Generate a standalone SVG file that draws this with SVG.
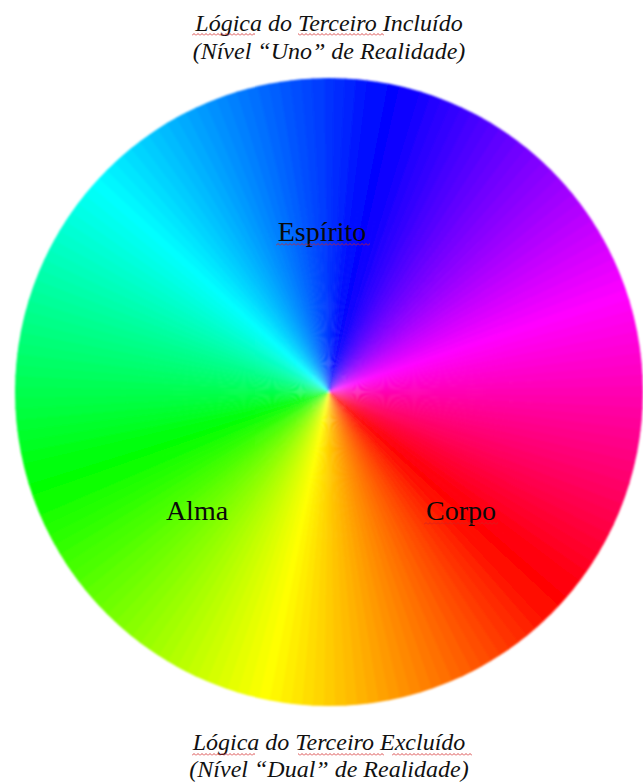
<svg xmlns="http://www.w3.org/2000/svg" width="643" height="782" viewBox="0 0 643 782">
<style>
.title{font-family:"Liberation Serif","Times New Roman",serif;font-style:italic;font-size:24px;fill:#111;text-anchor:middle}
.lbl{font-family:"Liberation Serif","Times New Roman",serif;font-size:28px;fill:#0a0a0a;text-anchor:middle}
</style>
<defs>
<path id="w" d="M0 0 L-6.4 -330 L6.4 -330 Z"/>
<clipPath id="disc"><circle cx="0" cy="0" r="314"/></clipPath>
<filter id="soft" x="-5%" y="-5%" width="110%" height="110%"><feGaussianBlur stdDeviation="0.9"/></filter>
<pattern id="sq" width="4" height="3" patternUnits="userSpaceOnUse"><path d="M0 2.5 L2 0.5 L4 2.5" fill="none" stroke="#d02020" stroke-width="0.8"/></pattern>
</defs>
<rect width="643" height="782" fill="#fff"/>
<g id="wheel" transform="translate(329,392)">
<g filter="url(#soft)">
<g clip-path="url(#disc)">
<use href="#w" transform="rotate(0)" fill="hsl(228,100%,50%)"/>
<use href="#w" transform="rotate(2)" fill="hsl(230,100%,50%)"/>
<use href="#w" transform="rotate(4)" fill="hsl(232,100%,50%)"/>
<use href="#w" transform="rotate(6)" fill="hsl(234,100%,50%)"/>
<use href="#w" transform="rotate(8)" fill="hsl(236,100%,50%)"/>
<use href="#w" transform="rotate(10)" fill="hsl(238,100%,50%)"/>
<use href="#w" transform="rotate(12)" fill="hsl(240,100%,50%)"/>
<use href="#w" transform="rotate(14)" fill="hsl(242,100%,50%)"/>
<use href="#w" transform="rotate(16)" fill="hsl(244,100%,50%)"/>
<use href="#w" transform="rotate(18)" fill="hsl(246,100%,50%)"/>
<use href="#w" transform="rotate(20)" fill="hsl(248,100%,50%)"/>
<use href="#w" transform="rotate(22)" fill="hsl(250,100%,50%)"/>
<use href="#w" transform="rotate(24)" fill="hsl(252,100%,50%)"/>
<use href="#w" transform="rotate(26)" fill="hsl(254,100%,50%)"/>
<use href="#w" transform="rotate(28)" fill="hsl(256,100%,50%)"/>
<use href="#w" transform="rotate(30)" fill="hsl(258,100%,50%)"/>
<use href="#w" transform="rotate(32)" fill="hsl(260,100%,50%)"/>
<use href="#w" transform="rotate(34)" fill="hsl(262,100%,50%)"/>
<use href="#w" transform="rotate(36)" fill="hsl(264,100%,50%)"/>
<use href="#w" transform="rotate(38)" fill="hsl(266,100%,50%)"/>
<use href="#w" transform="rotate(40)" fill="hsl(268,100%,50%)"/>
<use href="#w" transform="rotate(42)" fill="hsl(270,100%,50%)"/>
<use href="#w" transform="rotate(44)" fill="hsl(272,100%,50%)"/>
<use href="#w" transform="rotate(46)" fill="hsl(274,100%,50%)"/>
<use href="#w" transform="rotate(48)" fill="hsl(276,100%,50%)"/>
<use href="#w" transform="rotate(50)" fill="hsl(278,100%,50%)"/>
<use href="#w" transform="rotate(52)" fill="hsl(280,100%,50%)"/>
<use href="#w" transform="rotate(54)" fill="hsl(282,100%,50%)"/>
<use href="#w" transform="rotate(56)" fill="hsl(284,100%,50%)"/>
<use href="#w" transform="rotate(58)" fill="hsl(286,100%,50%)"/>
<use href="#w" transform="rotate(60)" fill="hsl(288,100%,50%)"/>
<use href="#w" transform="rotate(62)" fill="hsl(290,100%,50%)"/>
<use href="#w" transform="rotate(64)" fill="hsl(292,100%,50%)"/>
<use href="#w" transform="rotate(66)" fill="hsl(294,100%,50%)"/>
<use href="#w" transform="rotate(68)" fill="hsl(296,100%,50%)"/>
<use href="#w" transform="rotate(70)" fill="hsl(298,100%,50%)"/>
<use href="#w" transform="rotate(72)" fill="hsl(300,100%,50%)"/>
<use href="#w" transform="rotate(74)" fill="hsl(302,100%,50%)"/>
<use href="#w" transform="rotate(76)" fill="hsl(304,100%,50%)"/>
<use href="#w" transform="rotate(78)" fill="hsl(306,100%,50%)"/>
<use href="#w" transform="rotate(80)" fill="hsl(308,100%,50%)"/>
<use href="#w" transform="rotate(82)" fill="hsl(310,100%,50%)"/>
<use href="#w" transform="rotate(84)" fill="hsl(312,100%,50%)"/>
<use href="#w" transform="rotate(86)" fill="hsl(314,100%,50%)"/>
<use href="#w" transform="rotate(88)" fill="hsl(316,100%,50%)"/>
<use href="#w" transform="rotate(90)" fill="hsl(318,100%,50%)"/>
<use href="#w" transform="rotate(92)" fill="hsl(320,100%,50%)"/>
<use href="#w" transform="rotate(94)" fill="hsl(322,100%,50%)"/>
<use href="#w" transform="rotate(96)" fill="hsl(324,100%,50%)"/>
<use href="#w" transform="rotate(98)" fill="hsl(326,100%,50%)"/>
<use href="#w" transform="rotate(100)" fill="hsl(328,100%,50%)"/>
<use href="#w" transform="rotate(102)" fill="hsl(330,100%,50%)"/>
<use href="#w" transform="rotate(104)" fill="hsl(332,100%,50%)"/>
<use href="#w" transform="rotate(106)" fill="hsl(334,100%,50%)"/>
<use href="#w" transform="rotate(108)" fill="hsl(336,100%,50%)"/>
<use href="#w" transform="rotate(110)" fill="hsl(338,100%,50%)"/>
<use href="#w" transform="rotate(112)" fill="hsl(340,100%,50%)"/>
<use href="#w" transform="rotate(114)" fill="hsl(342,100%,50%)"/>
<use href="#w" transform="rotate(116)" fill="hsl(344,100%,50%)"/>
<use href="#w" transform="rotate(118)" fill="hsl(346,100%,50%)"/>
<use href="#w" transform="rotate(120)" fill="hsl(348,100%,50%)"/>
<use href="#w" transform="rotate(122)" fill="hsl(350,100%,50%)"/>
<use href="#w" transform="rotate(124)" fill="hsl(352,100%,50%)"/>
<use href="#w" transform="rotate(126)" fill="hsl(354,100%,50%)"/>
<use href="#w" transform="rotate(128)" fill="hsl(356,100%,50%)"/>
<use href="#w" transform="rotate(130)" fill="hsl(358,100%,50%)"/>
<use href="#w" transform="rotate(132)" fill="hsl(0,100%,50%)"/>
<use href="#w" transform="rotate(134)" fill="hsl(2,100%,50%)"/>
<use href="#w" transform="rotate(136)" fill="hsl(4,100%,50%)"/>
<use href="#w" transform="rotate(138)" fill="hsl(6,100%,50%)"/>
<use href="#w" transform="rotate(140)" fill="hsl(8,100%,50%)"/>
<use href="#w" transform="rotate(142)" fill="hsl(10,100%,50%)"/>
<use href="#w" transform="rotate(144)" fill="hsl(12,100%,50%)"/>
<use href="#w" transform="rotate(146)" fill="hsl(14,100%,50%)"/>
<use href="#w" transform="rotate(148)" fill="hsl(16,100%,50%)"/>
<use href="#w" transform="rotate(150)" fill="hsl(18,100%,50%)"/>
<use href="#w" transform="rotate(152)" fill="hsl(20,100%,50%)"/>
<use href="#w" transform="rotate(154)" fill="hsl(22,100%,50%)"/>
<use href="#w" transform="rotate(156)" fill="hsl(24,100%,50%)"/>
<use href="#w" transform="rotate(158)" fill="hsl(26,100%,50%)"/>
<use href="#w" transform="rotate(160)" fill="hsl(28,100%,50%)"/>
<use href="#w" transform="rotate(162)" fill="hsl(30,100%,50%)"/>
<use href="#w" transform="rotate(164)" fill="hsl(32,100%,50%)"/>
<use href="#w" transform="rotate(166)" fill="hsl(34,100%,50%)"/>
<use href="#w" transform="rotate(168)" fill="hsl(36,100%,50%)"/>
<use href="#w" transform="rotate(170)" fill="hsl(38,100%,50%)"/>
<use href="#w" transform="rotate(172)" fill="hsl(40,100%,50%)"/>
<use href="#w" transform="rotate(174)" fill="hsl(42,100%,50%)"/>
<use href="#w" transform="rotate(176)" fill="hsl(44,100%,50%)"/>
<use href="#w" transform="rotate(178)" fill="hsl(46,100%,50%)"/>
<use href="#w" transform="rotate(180)" fill="hsl(48,100%,50%)"/>
<use href="#w" transform="rotate(182)" fill="hsl(50,100%,50%)"/>
<use href="#w" transform="rotate(184)" fill="hsl(52,100%,50%)"/>
<use href="#w" transform="rotate(186)" fill="hsl(54,100%,50%)"/>
<use href="#w" transform="rotate(188)" fill="hsl(56,100%,50%)"/>
<use href="#w" transform="rotate(190)" fill="hsl(58,100%,50%)"/>
<use href="#w" transform="rotate(192)" fill="hsl(60,100%,50%)"/>
<use href="#w" transform="rotate(194)" fill="hsl(62,100%,50%)"/>
<use href="#w" transform="rotate(196)" fill="hsl(64,100%,50%)"/>
<use href="#w" transform="rotate(198)" fill="hsl(66,100%,50%)"/>
<use href="#w" transform="rotate(200)" fill="hsl(68,100%,50%)"/>
<use href="#w" transform="rotate(202)" fill="hsl(70,100%,50%)"/>
<use href="#w" transform="rotate(204)" fill="hsl(72,100%,50%)"/>
<use href="#w" transform="rotate(206)" fill="hsl(74,100%,50%)"/>
<use href="#w" transform="rotate(208)" fill="hsl(76,100%,50%)"/>
<use href="#w" transform="rotate(210)" fill="hsl(78,100%,50%)"/>
<use href="#w" transform="rotate(212)" fill="hsl(80,100%,50%)"/>
<use href="#w" transform="rotate(214)" fill="hsl(82,100%,50%)"/>
<use href="#w" transform="rotate(216)" fill="hsl(84,100%,50%)"/>
<use href="#w" transform="rotate(218)" fill="hsl(86,100%,50%)"/>
<use href="#w" transform="rotate(220)" fill="hsl(88,100%,50%)"/>
<use href="#w" transform="rotate(222)" fill="hsl(90,100%,50%)"/>
<use href="#w" transform="rotate(224)" fill="hsl(92,100%,50%)"/>
<use href="#w" transform="rotate(226)" fill="hsl(94,100%,50%)"/>
<use href="#w" transform="rotate(228)" fill="hsl(96,100%,50%)"/>
<use href="#w" transform="rotate(230)" fill="hsl(98,100%,50%)"/>
<use href="#w" transform="rotate(232)" fill="hsl(100,100%,50%)"/>
<use href="#w" transform="rotate(234)" fill="hsl(102,100%,50%)"/>
<use href="#w" transform="rotate(236)" fill="hsl(104,100%,50%)"/>
<use href="#w" transform="rotate(238)" fill="hsl(106,100%,50%)"/>
<use href="#w" transform="rotate(240)" fill="hsl(108,100%,50%)"/>
<use href="#w" transform="rotate(242)" fill="hsl(110,100%,50%)"/>
<use href="#w" transform="rotate(244)" fill="hsl(112,100%,50%)"/>
<use href="#w" transform="rotate(246)" fill="hsl(114,100%,50%)"/>
<use href="#w" transform="rotate(248)" fill="hsl(116,100%,50%)"/>
<use href="#w" transform="rotate(250)" fill="hsl(118,100%,50%)"/>
<use href="#w" transform="rotate(252)" fill="hsl(120,100%,50%)"/>
<use href="#w" transform="rotate(254)" fill="hsl(122,100%,50%)"/>
<use href="#w" transform="rotate(256)" fill="hsl(124,100%,50%)"/>
<use href="#w" transform="rotate(258)" fill="hsl(126,100%,50%)"/>
<use href="#w" transform="rotate(260)" fill="hsl(128,100%,50%)"/>
<use href="#w" transform="rotate(262)" fill="hsl(130,100%,50%)"/>
<use href="#w" transform="rotate(264)" fill="hsl(132,100%,50%)"/>
<use href="#w" transform="rotate(266)" fill="hsl(134,100%,50%)"/>
<use href="#w" transform="rotate(268)" fill="hsl(136,100%,50%)"/>
<use href="#w" transform="rotate(270)" fill="hsl(138,100%,50%)"/>
<use href="#w" transform="rotate(272)" fill="hsl(140,100%,50%)"/>
<use href="#w" transform="rotate(274)" fill="hsl(142,100%,50%)"/>
<use href="#w" transform="rotate(276)" fill="hsl(144,100%,50%)"/>
<use href="#w" transform="rotate(278)" fill="hsl(146,100%,50%)"/>
<use href="#w" transform="rotate(280)" fill="hsl(148,100%,50%)"/>
<use href="#w" transform="rotate(282)" fill="hsl(150,100%,50%)"/>
<use href="#w" transform="rotate(284)" fill="hsl(152,100%,50%)"/>
<use href="#w" transform="rotate(286)" fill="hsl(154,100%,50%)"/>
<use href="#w" transform="rotate(288)" fill="hsl(156,100%,50%)"/>
<use href="#w" transform="rotate(290)" fill="hsl(158,100%,50%)"/>
<use href="#w" transform="rotate(292)" fill="hsl(160,100%,50%)"/>
<use href="#w" transform="rotate(294)" fill="hsl(162,100%,50%)"/>
<use href="#w" transform="rotate(296)" fill="hsl(164,100%,50%)"/>
<use href="#w" transform="rotate(298)" fill="hsl(166,100%,50%)"/>
<use href="#w" transform="rotate(300)" fill="hsl(168,100%,50%)"/>
<use href="#w" transform="rotate(302)" fill="hsl(170,100%,50%)"/>
<use href="#w" transform="rotate(304)" fill="hsl(172,100%,50%)"/>
<use href="#w" transform="rotate(306)" fill="hsl(174,100%,50%)"/>
<use href="#w" transform="rotate(308)" fill="hsl(176,100%,50%)"/>
<use href="#w" transform="rotate(310)" fill="hsl(178,100%,50%)"/>
<use href="#w" transform="rotate(312)" fill="hsl(180,100%,50%)"/>
<use href="#w" transform="rotate(314)" fill="hsl(182,100%,50%)"/>
<use href="#w" transform="rotate(316)" fill="hsl(184,100%,50%)"/>
<use href="#w" transform="rotate(318)" fill="hsl(186,100%,50%)"/>
<use href="#w" transform="rotate(320)" fill="hsl(188,100%,50%)"/>
<use href="#w" transform="rotate(322)" fill="hsl(190,100%,50%)"/>
<use href="#w" transform="rotate(324)" fill="hsl(192,100%,50%)"/>
<use href="#w" transform="rotate(326)" fill="hsl(194,100%,50%)"/>
<use href="#w" transform="rotate(328)" fill="hsl(196,100%,50%)"/>
<use href="#w" transform="rotate(330)" fill="hsl(198,100%,50%)"/>
<use href="#w" transform="rotate(332)" fill="hsl(200,100%,50%)"/>
<use href="#w" transform="rotate(334)" fill="hsl(202,100%,50%)"/>
<use href="#w" transform="rotate(336)" fill="hsl(204,100%,50%)"/>
<use href="#w" transform="rotate(338)" fill="hsl(206,100%,50%)"/>
<use href="#w" transform="rotate(340)" fill="hsl(208,100%,50%)"/>
<use href="#w" transform="rotate(342)" fill="hsl(210,100%,50%)"/>
<use href="#w" transform="rotate(344)" fill="hsl(212,100%,50%)"/>
<use href="#w" transform="rotate(346)" fill="hsl(214,100%,50%)"/>
<use href="#w" transform="rotate(348)" fill="hsl(216,100%,50%)"/>
<use href="#w" transform="rotate(350)" fill="hsl(218,100%,50%)"/>
<use href="#w" transform="rotate(352)" fill="hsl(220,100%,50%)"/>
<use href="#w" transform="rotate(354)" fill="hsl(222,100%,50%)"/>
<use href="#w" transform="rotate(356)" fill="hsl(224,100%,50%)"/>
<use href="#w" transform="rotate(358)" fill="hsl(226,100%,50%)"/>
</g>
</g>
</g>
<g id="title-top">
<text class="title" x="329" y="31">Lógica do Terceiro Incluído</text>
<text class="title" x="329" y="59">(Nível “Uno” de Realidade)</text>
<rect x="192" y="33" width="63" height="3" fill="url(#sq)"/>
<rect x="298" y="33" width="86" height="3" fill="url(#sq)"/>
</g>
<g id="node-espirito">
<text class="lbl" x="322" y="241">Espírito</text>
<rect x="276" y="243" width="94" height="3" fill="url(#sq)"/>
</g>
<g id="node-alma">
<text class="lbl" x="197" y="520">Alma</text>
</g>
<g id="node-corpo">
<text class="lbl" x="461" y="520">Corpo</text>
<rect x="424" y="522" width="74" height="3" fill="url(#sq)"/>
</g>
<g id="title-bottom">
<text class="title" x="329" y="750">Lógica do Terceiro Excluído</text>
<text class="title" x="329" y="777">(Nível “Dual” de Realidade)</text>
<rect x="192" y="753" width="63" height="3" fill="url(#sq)"/>
<rect x="298" y="753" width="86" height="3" fill="url(#sq)"/>
<rect x="392" y="753" width="80" height="3" fill="url(#sq)"/>
</g>
<g id="connectors"/>
</svg>
